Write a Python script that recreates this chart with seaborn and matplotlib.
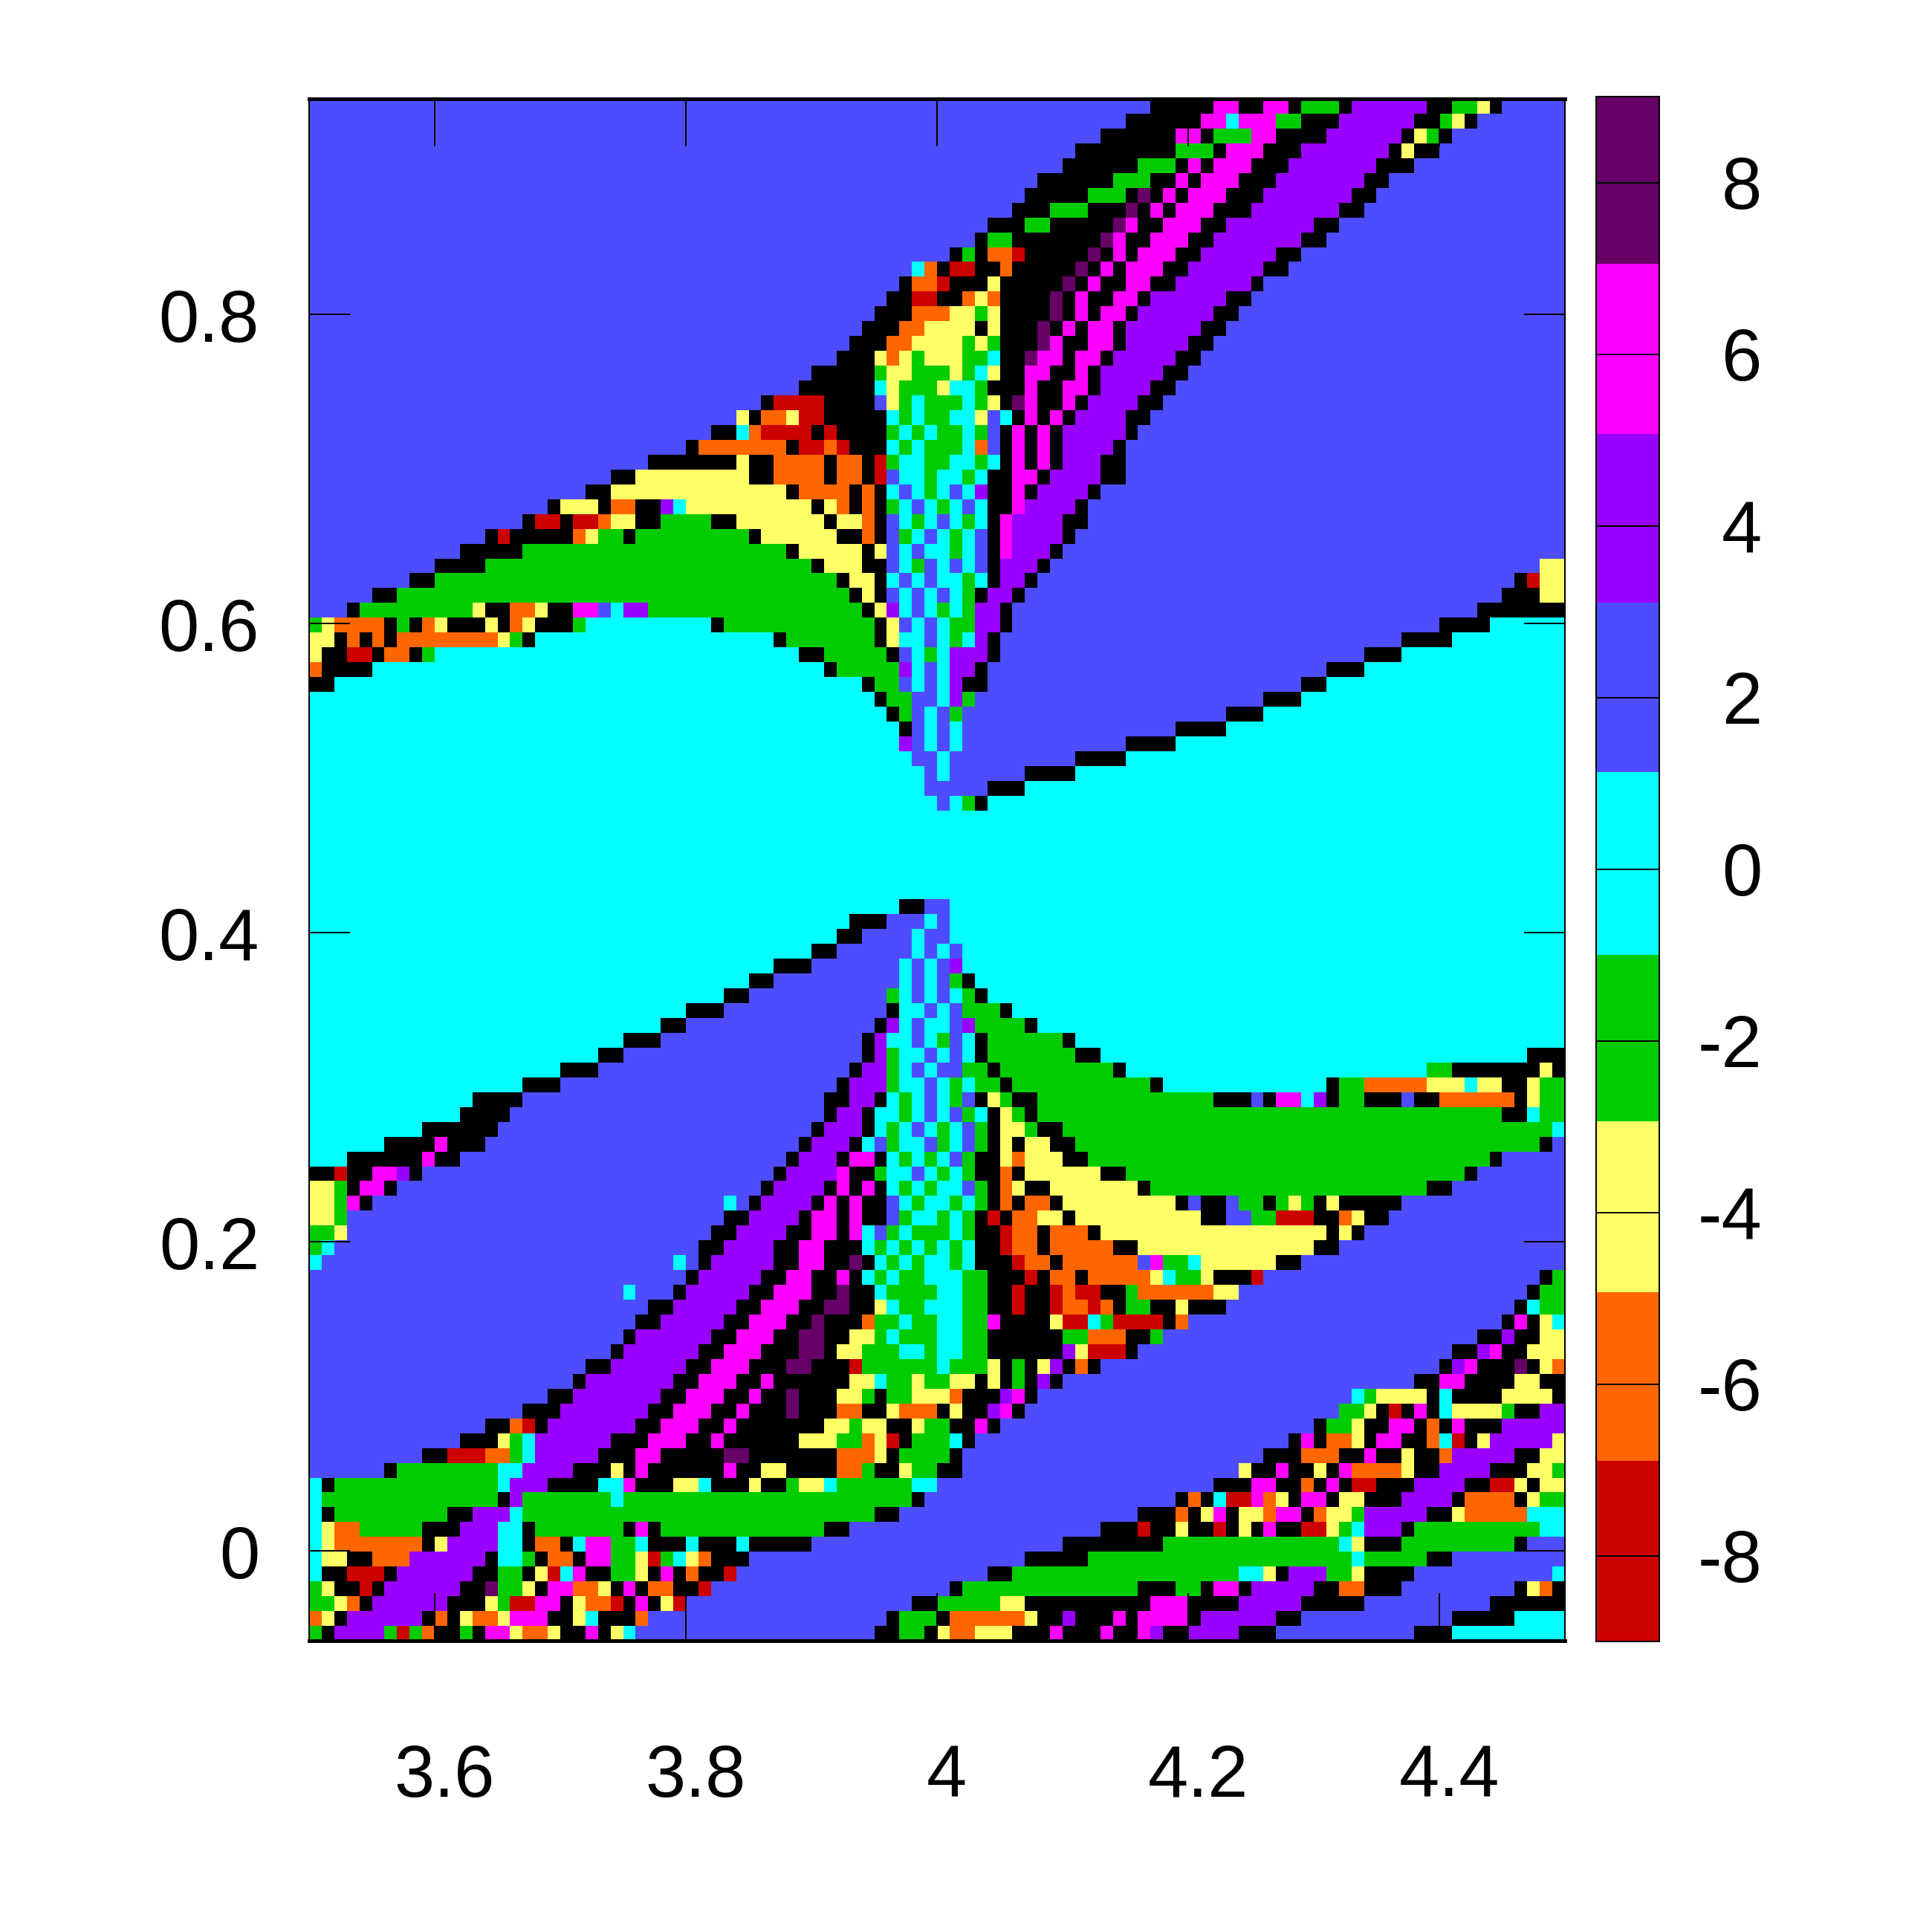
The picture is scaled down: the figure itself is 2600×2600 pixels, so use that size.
import re
import numpy as np
import matplotlib
matplotlib.use('Agg')
import matplotlib.pyplot as plt
from matplotlib.colors import ListedColormap, BoundaryNorm
from matplotlib.transforms import ScaledTranslation
import seaborn as sns

# map values: one string per row, letter + end column (0-100)
rows = [
    "b67k72m74k76m78k79g82k83p89k91g93y94k95b100",
    "b65k71m73c74m77g79k82p88k90g91y92k93b100",
    "b63k69m71k72g75m77k81p87k88y89g90k91b100",
    "b61k69g72k73m76k79p86k87y88k90b100",
    "b60k66g69k70m71k72m75k78p85k88b100",
    "b58k64g67k69m70k71m74k77p84k86b100",
    "b57k62g65k66d67k68m69k70m73k76p83k85b100",
    "b56k59g62k65d66k67m68k69m72k75p82k84b100",
    "b54k57g59k64d65m66k68m71k73p80k82b100",
    "b53k54g56k63d64m65k67m70k72p79k81b100",
    "b51k52g53k54o56r57k62d63k64m65k66m69k71p77k79b100",
    "b48c49o50k51r53k55o56k61d62k63m64k65m68k70p76k78b100",
    "b47k48o50r51k54y55k60d61k62m63k65m67k69p75k76b100",
    "b46k48r50k52o53y54o55k59d60k61m62k64m66k67p73k75b100",
    "b45k48o51y53g54y55k59d60k61m62k63m65k66p72k74b100",
    "b44k47o49y53k54y55k58d59k60m61k62m64k65p71k73b100",
    "b43k46o48y52g53y54g55k58d59m60k62m64k65p70k72b100",
    "b42k45y46o47y48g49y52g54c55k57d58m60k61m63k64p69k71b100",
    "b40k45g46y48g51y52g53c54y55k57m59k61m62k63p68k70b100",
    "b39k45c46y47g50y51c53g54k57m58k60m62k63p67k69b100",
    "b36k37r41k45b46y47g48c49g52c53g54y55k56d57m58k60m61k62p66k68b100",
    "b34y35k36o38y39r41k46c47g48c49g51c53y54b55c56k57m58k59m60k61p65k67b100",
    "b32k34c35o36r40k41r42k46g47c48g49c50g52c53g54b55k56m57k58m59k60p65k66b100",
    "b30k31o38k39r41o42r43k46c47g48c49g52c53o54b55k56m57k58m59k60p64k65b100",
    "b27k34y35k37o41k42o44k45r46g47c49g51c53g54c55k56m57k58m59k60p63k65b100",
    "b24k26y35k37o41k42o44k45r46b47c49g50c52g53c54k56m58k59p63k65b100",
    "b22k24y38k39o43k44o45k46c47b48c49g50c51b52c53p54k56m57k58p62k63b100",
    "b19k20y23k24o26k28p29c30y40k41y42o43k44o45k46g47c48b49c50g51c52b53c54k56m57p61k62b100",
    "b17k18r20k21r23o24y26k28g32k34y41k42y44o45k46b47c48g49c50b51c52g53c54k55m56p60k62b100",
    "b14k15r16k21o22y23g25k26g35k36y42k44o45k46b47g48c49b50c51g52c53b54k55m56p60k61b100",
    "b12k17g38k39y44k45y46b47c48b49c51g52c53b54k55m56p59k60b100",
    "b10k14g40k41y44k46b47c48g49b50c51b52c53b54k55p58k59b98y100",
    "b8k10g42k43y45k46c47b48c49b50c52g53c54k55p57k58b96k97r98y100",
    "b5k7g43k44y45k46b47c48b49c50b51c52g53k54p56k57b95k98y100",
    "b3k4g13y14k16o18y19k21m23b24c25p27g44k45y46p47c48b49c50g51c52g53p55k56b93k100",
    "g1y2o6k7g8k9o10y11k14y15k16o17y18k21g22c32k33g45k46y47b48c49b50c51g53p55k56b90k94c100",
    "y2k3o4k5o6k7o15y16g17k18c37k38g45k46y47c49b50c51g52c53p54k55b87k91c100",
    "y1k3r5k6o8k9g10c39k41g46k47b48c49g50c51p54k55b84k87c100",
    "o1k5c41k42g47p48c49b50c51p53k54b81k84c100",
    "k2c44k45g47b48c49b50c51p52k54b79k81c100",
    "c45k46g48b50c51p52g53b76k79c100",
    "c46k47g48b49c50b51g52b73k76c100",
    "c47k48b49c50b51c52b69k73c100",
    "c47p48b49c50b51c52b65k69c100",
    "c48b50c51b61k65c100",
    "c49b50c51b57k61c100",
    "c49b54k57c100",
    "c50b51c52g53k54c100",
    "c100",
    "c100",
    "c100",
    "c100",
    "c100",
    "c100",
    "c47k49b51c100",
    "c43k46b49c50b51c100",
    "c42k44b48c49b51c100",
    "c40k42b48c49b50c51b52c100",
    "c37k40b47c48b49c50b51p52c100",
    "c35k37b47c48b49c50b51g52k53c100",
    "c33k35b46g47c48b49c50b51c52g53k54c100",
    "c30k33b46k47c49b50c51b52g55k56c100",
    "c28k30b45k46p47c48b49c51b52p53g57k58c100",
    "c25k28b44k45p46c48b49c50g51b52c53k54g60k61c100",
    "c23k25b44k45p46g47c49b50c51b52c53k54g61k63c97k100",
    "c20k23b43k44p46g47c48b49c50b52g54k55g64k65c89g91k98y99k100",
    "c17k20b42k43p46g47c49b50c51g52c53g55k56g67k68c81k82g84o89y92c93y95k97y98g100",
    "c13k17b41k43p45k46c47g48c49b50c51g52b53k54y55g56k58g72k75b76k77m79c80p81k82g84k87b88k90o96k97y98g100",
    "c12k16b41k42p44k45c47g48c49b50c51b52g53c54k55y56g57k58g95k97c98g100",
    "c9k15b40k41p44k45c46g47c48b49c50g51c52b53g54k55y57g58k60g99c100",
    "c6k10m11k14b39k40p43k44c45b46g47c49b50g51c52b53g54k55y56k57y59k61g98k99b100",
    "c3k9m10k12b38k39p42k43m45k46c47g48c49g50c51b52g53k55y56o57y60k62g94k95b100",
    "k2r3k5m7p8k9b37k38p42m43k45g46c48b49c50g51c52g53k55o56k57y63k65g92k93b100",
    "y2g3k4m6k7b36k37p41k42m43k44m45k46c47g48c49g50c52b53g54k55o56y57k59y66k67g89k91b100",
    "y2g3k3m4k5b33c34b35k36p40k41m42k43m44k46b47c48g49c51g52c53g54k55o56k57o59k60y69k70b71k73b74g76k77g78y79g80k81y82k87b100",
    "y2g3k3b33k35p39k40m42k43m44k46b47g48c50g51c52g53k54r55k56o58y60k61y71k73b75g77r80k82o83y84k86b100",
    "g2y3b32k34p38k40m42k43m44c45b46g47c48g51c52g53k55r56o58k59o62k63y81k82y83k84b100",
    "g1c2b31k33p37k39m41k43m43k44c45g46c47g48c49g50c51g52c53k55r56o58k59o64k66y80k82b100",
    "c1b29c30b31k32p37k39m41k43d44k45c46g47c48g49c51g52c53k56r57o59k60o66b67m68g70c71y77k79b100",
    "b30k31p36k38m40k42m43k44c45g46c47g49c52g54k57r58k59o61k62o67y68c69g71y72k75r76b98k99g100",
    "b25c26b29k30p35k37m40k42d43k45c46g50c52g54k56r57k59r60o61r63k65g66o72y74b97k98g100",
    "b27k29p34k36m39k41d43k45y46c47g49c52g54k56r57k59r60o62r63o64k65g67k69y70k73b96k97c98g100",
    "b26k28p33k35m38k40d41k44o45g47c48g50c52g54m55k59y60r62c63g64r68k69o70b95k96m97k98y99c100",
    "b25k26p32k34m37k39d41k43y45g46c47g50c52g54k60g62o65k67g68b93k95p96k98y100",
    "b24k25p31k33m36k39d41k42y44g47c49g50c52g54k60p61y62r65k66b91k93p94m95k97y100",
    "b22k24p30k32m35k38d40k43r44g50c51g54y55k56g57k58y59p60k61o62k63b90k91p92m93k96d97k98y99o100",
    "b21k22p29k31m34k36m37k43y45c46g48y49g51y53k54y55k56g57k58p59k60b88k90m92k96y98k100",
    "b19k21p28k30m33k35m36k38d39k42y44g45k46g48y51o52k55p56m57k58b83c84g85y89k90c91k95y99k100",
    "b17k20p27k29m32k34m35k38d39k42o44k46y47o50k51y52k54p55m56k57b82g84y85k86r87k88m89k90c91y95g96k98p100",
    "b14k16o17r18k19p26k28m31k33m34k41y43g44y46k48y49g51k53m54k55b80k81g83y84k86m88k89o90k91m92k95p100",
    "b12k15y16g17c18p24k27m30k32m33k39y42g44o45y46r47k48g51c52k53b78k79m80k81o83y84k85m87k89o90c91r92k93y94p99y100",
    "b9k11r14o16g17c18p23k26m28k33d35k42o45y46k47g51k52b76k79o82k84m85k87y88k90o91p96k98y100",
    "b6k7g15c17p21k24y25k26m27k33m34k36y38k42o44g45k47y48g50k52b74y75k77m78k80y81k82m83o87y88k90p94k97y99g100",
    "c1k2g15c16p19k23c25m26k29y31c32k35y36k38g39y41c42g48c50b72k75m77k79o80k81m82k83r85k88p92k94r96y97k98y100",
    "c1g15k16p17g24c25g48k49b69k70o71k72c73r75m76o77y78k79m81k82y84k87p91k92o96k97y98g100",
    "c1k2g11k13p16c17g45k47b66k69o70k71y72m73k74y76o77m79k80o81y83g84p89k91y92o97c100",
    "c1y2o4g9k12p15c17k18g25k26m27k28g41k43b63k66r67k69y70k72r73k74y75k76m77k79r81y82g83c84p87k88g98c100",
    "c1y2o9k10y11p15c17k18o20k21c22m24g26c27k30c31k34c35k40b60k68g82c83y84k87g96k97b100",
    "c1y3k5o8p14k15c17g18k19o21k22m24g26y27r28g29c30y31o32k35b57k62g83c84g89k91b100",
    "c1k3r6k7p13k15g17k18y19r20c21m22k24g26y27k28m29k30o31k33r34b54k56g74c76y77k78p81g83y84k88b99c100",
    "g1y2k4r5k6p12k14d15g17y18k19m21o23y24k25m26k27o29k31r32b51k52g66k69g71k72m74k75p80k82o84k87b96k97y98o99k100",
    "g2y3o4k5p11k14y15g16r18m20k21y22o24r25k26m27k28y29r30b48k50g55y57k67m70k74p79k84b94k100",
    "o1y2k3p9k10o11k12y13o15y16m19k21y22c23k26o27b46k47g50k51o57y58k60p61k64m65k66m70k71p77k79b91k96c100",
    "g1k2p6g7r8g9o10k12g13k14m16y17o19y20k22m23k24y25c26b45k47g49k50y51o53y56k59m60k63m64k66m67p68k70p74k77b88k91c100",
]
# letter -> value inside each colour step, k is the black no-value
level_values = {'r': -8, 'o': -6, 'y': -4, 'g': -2, 'c': 0, 'b': 2, 'p': 4, 'm': 6, 'd': 8, 'k': np.nan}
level_colors = ['#cc0000', '#ff6600', '#ffff66', '#00cc00', '#00ffff', '#4d4dff', '#9900ff', '#ff00ff', '#660066']
level_bounds = [-9, -6.9, -4.93, -2.94, -1, 1.13, 3.1, 5.07, 7.05, 9]
x_ticks = [3.6, 3.8, 4.0, 4.2, 4.4]
x_labels = ['3.6', '3.8', '4', '4.2', '4.4']
y_ticks = [0.8, 0.6, 0.4, 0.2, 0.0]
y_labels = ['0.8', '0.6', '0.4', '0.2', '0']
cbar_ticks = [-8, -6, -4, -2, 0, 2, 4, 6, 8]
cbar_labels = ['-8', '-6', '-4', '-2', '0', '2', '4', '6', '8']
x_min, x_max = 3.5, 4.5
y_top, y_bottom = 0.9394, -0.0582
n_cols = 100

# expand the rows into the grid
grid = np.full((len(rows), n_cols), np.nan)
for i, row in enumerate(rows):
    start = 0
    for letter, end in re.findall(r'([a-z])(\d+)', row):
        grid[i, start:int(end)] = level_values[letter]
        start = int(end)

sns.set_theme(style='white')
plt.rcParams['font.family'] = ['Liberation Sans', 'DejaVu Sans']

W = 2600.0
px = 72.0 / 260  # one pixel in points
fig = plt.figure(figsize=(10, 10), dpi=260)
ax = fig.add_axes([416 / W, 1 - 2208 / W, (2106 - 416) / W, (2208 - 133) / W])
cax = fig.add_axes([2148 / W, 1 - 2209 / W, 85 / W, (2209 - 130) / W])
ax.set_facecolor('black')

cmap = ListedColormap(level_colors)
norm = BoundaryNorm(level_bounds, cmap.N)
sns.heatmap(grid, ax=ax, cmap=cmap, norm=norm, mask=np.isnan(grid), cbar_ax=cax,
            cbar_kws={'ticks': cbar_ticks, 'boundaries': level_bounds, 'spacing': 'proportional'})

# axis ticks on all four sides, pointing in, on top of the cells
ax.set_axisbelow(False)
ax.set_xticks([(v - x_min) / (x_max - x_min) * n_cols for v in x_ticks], x_labels, rotation=0)
ax.set_yticks([(y_top - v) / (y_top - y_bottom) * len(rows) for v in y_ticks], y_labels, rotation=0)
ax.tick_params(axis='x', direction='in', length=64 * px, width=2 * px, top=True, bottom=True,
               color='black', labelsize=27, labelcolor='black', pad=139 * px)
ax.tick_params(axis='y', direction='in', length=55 * px, width=2 * px, left=True, right=True,
               color='black', labelsize=27, labelcolor='black', pad=67 * px)
for lab in ax.get_xticklabels():
    lab.set_transform(lab.get_transform() + ScaledTranslation(13 / 260, 0, fig.dpi_scale_trans))
for lab in ax.get_yticklabels():
    lab.set_transform(lab.get_transform() + ScaledTranslation(0, -12 / 260, fig.dpi_scale_trans))
for side, spine in ax.spines.items():
    spine.set_visible(True)
    spine.set_color('black')
    spine.set_linewidth((5 if side in ('top', 'bottom') else 2) * px)

# colour box with ticks running across it
cbar = ax.collections[0].colorbar
cbar.set_ticks(cbar_ticks, labels=cbar_labels)
cbar.minorticks_off()
cax.set_axisbelow(False)
cax.tick_params(axis='y', direction='in', length=85 * px, width=2 * px, right=True, left=False,
                color='black', labelsize=27, labelcolor='black', pad=138 * px)
for lab in cax.get_yticklabels():
    lab.set_ha('right')
cbar.outline.set_visible(True)
cbar.outline.set_edgecolor('black')
cbar.outline.set_linewidth(2 * px)

fig.savefig('out.png', dpi=260, facecolor='white')
